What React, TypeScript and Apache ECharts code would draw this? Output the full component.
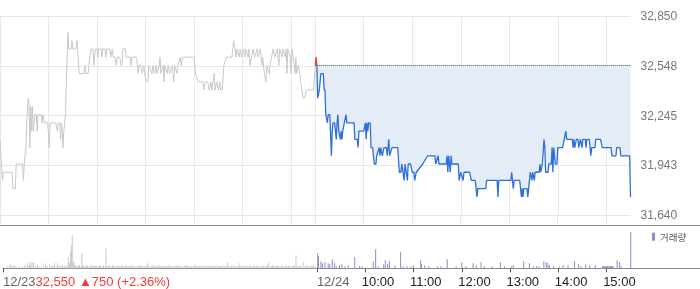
import React, { useEffect, useRef } from 'react';
import * as echarts from 'echarts';

// ---- session / labels ----
const SESSION = 390; // minutes, 09:00 - 15:30
const dates = ['12/23', '12/24'];
const hourTicks = ['10:00', '11:00', '12:00', '13:00', '14:00', '15:00'];
const prevClose = 32550;
const prevChange = 750;
const prevChangePct = 2.36;
const yMin = 31640;
const yMax = 32850;
const yStep = 302.5;

// [minutes after 09:00, price] – 12/23
const prevPrice: [number, number][] = [
  [0, 32100], [3, 31850], [4, 31900], [15, 31900], [16, 31800], [19, 31800], [20, 31950], [28, 31950], [29, 31850],
  [30, 31950], [32, 32050], [33, 32200], [35, 32350], [36, 32300], [37, 32050], [38, 32300], [39, 32150], [40, 32300],
  [41, 32150], [43, 32250], [45, 32250], [46, 32150], [47, 32250], [51, 32250], [52, 32200], [53, 32250], [55, 32200],
  [59, 32200], [61, 32050], [62, 32200], [69, 32200], [71, 32150], [72, 32200], [74, 32200], [75, 32100], [76, 32200],
  [77, 32150], [78, 32050], [79, 32150], [81, 32250], [82, 32450], [84, 32750], [85, 32650], [88, 32650], [89, 32700],
  [90, 32650], [94, 32650], [95, 32700], [96, 32650], [98, 32500], [104, 32500], [105, 32550], [106, 32500], [109, 32500],
  [110, 32550], [111, 32600], [113, 32650], [115, 32650], [116, 32550], [118, 32650], [120, 32650], [121, 32600], [122, 32650],
  [125, 32650], [126, 32600], [127, 32650], [130, 32650], [131, 32600], [132, 32650], [136, 32650], [137, 32600], [139, 32650],
  [140, 32600], [142, 32600], [144, 32550], [145, 32600], [148, 32600], [150, 32550], [151, 32550], [152, 32650], [155, 32650],
  [156, 32600], [161, 32600], [162, 32550], [163, 32600], [169, 32600], [171, 32500], [172, 32550], [174, 32550], [176, 32500],
  [178, 32550], [179, 32500], [181, 32450], [183, 32450], [184, 32550], [188, 32500], [189, 32550], [191, 32500], [193, 32550],
  [194, 32500], [197, 32550], [198, 32600], [199, 32500], [202, 32550], [203, 32450], [204, 32550], [207, 32500], [208, 32550],
  [210, 32500], [213, 32550], [214, 32500], [215, 32450], [216, 32550], [219, 32500], [220, 32550], [223, 32600], [224, 32550],
  [226, 32600], [240, 32600], [241, 32550], [242, 32500], [245, 32450], [251, 32450], [252, 32400], [254, 32450], [257, 32450],
  [259, 32400], [261, 32450], [262, 32400], [265, 32500], [266, 32400], [268, 32450], [270, 32400], [272, 32450], [273, 32400],
  [275, 32400], [277, 32550], [280, 32600], [287, 32600], [288, 32650], [289, 32700], [291, 32650], [292, 32600], [293, 32650],
  [296, 32600], [297, 32650], [299, 32600], [301, 32650], [303, 32600], [304, 32650], [307, 32600], [308, 32650], [309, 32550],
  [311, 32600], [313, 32650], [315, 32600], [318, 32650], [319, 32600], [322, 32650], [324, 32550], [325, 32600], [327, 32500],
  [329, 32450], [330, 32550], [333, 32500], [334, 32550], [336, 32600], [338, 32650], [340, 32600], [343, 32650], [345, 32550],
  [346, 32650], [349, 32600], [350, 32650], [353, 32600], [354, 32650], [355, 32500], [356, 32650], [359, 32600], [360, 32500],
  [361, 32650], [364, 32550], [365, 32500], [366, 32600], [367, 32500], [369, 32550], [371, 32500], [372, 32450], [375, 32350],
  [377, 32350], [379, 32400], [388, 32400], [390, 32550],
];

// [minutes after 09:00, price] – 12/24
const todayPrice: [number, number][] = [
  [0, 32550], [1, 32600], [2, 32550], [3, 32350], [5, 32400], [7, 32500], [10, 32500], [11, 32400], [12, 32400], [13, 32250],
  [15, 32200], [16, 32250], [18, 32250], [20, 32000], [21, 32150], [22, 32200], [24, 32200], [26, 32100], [27, 32200],
  [28, 32250], [29, 32150], [31, 32100], [32, 32150], [33, 32100], [34, 32150], [36, 32200], [38, 32250], [39, 32200],
  [48, 32200], [49, 32100], [52, 32100], [53, 32050], [54, 32150], [60, 32150], [62, 32200], [63, 32100], [64, 32200],
  [65, 32150], [66, 32200], [68, 32200], [69, 32050], [71, 32050], [73, 31950], [75, 31950], [76, 32000], [79, 32050],
  [80, 32000], [81, 32050], [83, 32000], [85, 32050], [88, 32050], [89, 32000], [91, 32100], [92, 32000], [95, 32050],
  [102, 32050], [104, 31900], [106, 31900], [107, 31950], [110, 31850], [111, 31950], [114, 31850], [115, 31950], [118, 31950],
  [120, 31900], [122, 31900], [123, 31850], [125, 31900], [133, 31950], [139, 32000], [148, 32000], [149, 31950], [152, 32000],
  [153, 31950], [162, 31950], [163, 32000], [164, 31900], [165, 32000], [167, 31900], [168, 32000], [169, 31950], [177, 31950],
  [178, 31850], [180, 31900], [183, 31850], [184, 31900], [191, 31900], [193, 31850], [198, 31850], [199, 31800], [200, 31750],
  [201, 31800], [211, 31800], [212, 31850], [225, 31850], [226, 31750], [227, 31850], [242, 31850], [243, 31900], [245, 31800],
  [246, 31850], [253, 31850], [255, 31750], [256, 31800], [257, 31750], [258, 31800], [262, 31800], [263, 31750], [264, 31800],
  [266, 31900], [268, 31850], [269, 31900], [271, 31850], [272, 31900], [277, 31900], [278, 31950], [279, 31900], [281, 31950],
  [283, 32100], [284, 32050], [285, 31900], [288, 31900], [289, 31950], [292, 31950], [293, 32050], [294, 31900], [295, 32050],
  [297, 31950], [299, 31950], [300, 32050], [306, 32050], [308, 32100], [310, 32150], [311, 32100], [318, 32100], [319, 32050],
  [320, 32100], [321, 32050], [323, 32100], [325, 32100], [326, 32050], [328, 32100], [330, 32050], [331, 32100], [334, 32100],
  [335, 32050], [336, 32100], [339, 32100], [340, 32050], [341, 32000], [342, 32050], [346, 32050], [347, 32100], [353, 32100],
  [355, 32050], [366, 32050], [367, 32000], [372, 32000], [373, 32050], [377, 32050], [378, 32000], [389, 32000], [390, 31750],
];

// [minutes after 09:00, volume (천주)] – 12/23
const prevVolume: [number, number][] = [
  [5, 2], [8, 3], [10, 4], [12, 2], [14, 3], [16, 2], [20, 2], [24, 2], [27, 3], [30, 5], [31, 2], [33, 6], [34, 3],
  [36, 6], [38, 6], [40, 2], [43, 3], [46, 2], [50, 3], [53, 5], [55, 2], [58, 4], [60, 2], [62, 3], [64, 5], [66, 2],
  [68, 5], [70, 2], [72, 3], [74, 3], [76, 2], [78, 3], [80, 2], [81, 11], [82, 4], [83, 6], [84, 17], [85, 23], [86, 33],
  [87, 5], [88, 7], [89, 3], [90, 3], [92, 2], [94, 3], [95, 3], [97, 2], [98, 15], [99, 2], [100, 3], [102, 2], [104, 3],
  [105, 2], [107, 2], [109, 2], [110, 3], [112, 2], [113, 3], [115, 2], [116, 2], [118, 2], [120, 3], [121, 2], [123, 2],
  [125, 3], [127, 2], [128, 20], [129, 2], [131, 3], [132, 2], [134, 2], [136, 3], [137, 2], [139, 2], [140, 2], [142, 3],
  [144, 2], [145, 2], [147, 3], [148, 3], [150, 2], [152, 2], [153, 3], [155, 2], [156, 2], [158, 3], [160, 3], [161, 2],
  [163, 2], [165, 2], [167, 2], [168, 3], [170, 2], [171, 3], [173, 2], [174, 2], [176, 2], [178, 3], [180, 5], [181, 2],
  [183, 2], [184, 2], [186, 3], [188, 3], [189, 2], [191, 2], [192, 2], [194, 3], [195, 2], [197, 2], [199, 3], [200, 2],
  [202, 2], [203, 2], [205, 3], [207, 3], [208, 2], [210, 2], [212, 2], [214, 2], [215, 3], [217, 2], [218, 3], [220, 2],
  [221, 2], [223, 2], [225, 2], [226, 3], [228, 2], [229, 3], [231, 2], [233, 2], [234, 2], [236, 2], [238, 3], [240, 3],
  [241, 2], [243, 2], [244, 2], [246, 3], [247, 2], [249, 2], [251, 3], [252, 2], [254, 2], [255, 2], [257, 3], [259, 2],
  [260, 2], [262, 3], [264, 2], [266, 2], [267, 3], [269, 2], [270, 2], [272, 2], [273, 3], [275, 2], [277, 2], [279, 6],
  [280, 2], [282, 2], [284, 3], [286, 3], [287, 2], [289, 2], [291, 2], [293, 5], [294, 2], [296, 3], [297, 2], [299, 2],
  [301, 3], [302, 2], [304, 2], [306, 3], [308, 2], [309, 2], [311, 2], [312, 3], [314, 2], [315, 2], [317, 3], [319, 2],
  [321, 2], [323, 3], [324, 2], [326, 2], [327, 2], [329, 3], [330, 6], [332, 2], [333, 2], [335, 3], [336, 2], [338, 2],
  [340, 3], [341, 2], [343, 2], [344, 2], [346, 3], [348, 2], [349, 2], [351, 3], [353, 2], [355, 3], [356, 2], [358, 2],
  [359, 2], [361, 3], [362, 2], [364, 13], [365, 2], [367, 2], [369, 3], [370, 2], [373, 6], [375, 2], [377, 3], [379, 2],
  [381, 2], [383, 3], [385, 2], [386, 3], [388, 2],
];

// [minutes after 09:00, volume (천주)] – 12/24
const todayVolume: [number, number][] = [
  [1, 15], [2, 12], [5, 7], [7, 5], [10, 6], [14, 5], [16, 4], [19, 9], [22, 5], [24, 2], [28, 3], [31, 4], [35, 2],
  [39, 3], [47, 11], [53, 2], [56, 2], [70, 7], [73, 19], [76, 2], [83, 4], [85, 8], [88, 4], [90, 7], [97, 3], [104, 16],
  [107, 2], [112, 2], [117, 2], [120, 3], [129, 8], [130, 4], [134, 3], [139, 2], [150, 2], [154, 2], [162, 9], [173, 2],
  [180, 6], [185, 2], [194, 5], [198, 3], [204, 6], [208, 2], [218, 2], [228, 6], [233, 2], [242, 2], [244, 3], [257, 7],
  [264, 5], [269, 2], [273, 2], [276, 2], [282, 7], [285, 6], [287, 5], [289, 3], [294, 2], [301, 2], [306, 3], [312, 3],
  [320, 7], [325, 4], [328, 2], [334, 4], [339, 3], [346, 3], [355, 2], [356, 2], [357, 2], [358, 2], [359, 2], [360, 2],
  [361, 2], [362, 2], [363, 2], [364, 2], [365, 2], [366, 2], [367, 2], [368, 2], [373, 8], [376, 6], [378, 2], [390, 36],
];

// ---- derived axis helpers ----
const pad = (n: number) => (n < 10 ? '0' + n : '' + n);
const hhmm = (m: number) => pad(Math.floor((540 + m) / 60)) + ':' + pad((540 + m) % 60);
const catName = (i: number) => (i < SESSION ? dates[0] + ' ' + hhmm(i) : dates[1] + ' ' + hhmm(i - SESSION));
const MAIN_N = SESSION * 2 + 1; // 781 slots
const FULL_N = 867; // slots spanning the full 700px width
const mainCats = Array.from({ length: MAIN_N }, (_, i) => catName(i));
const fullCats = Array.from({ length: FULL_N }, (_, i) => catName(i));

const gridLineIdx = new Set<number>();
[0, SESSION].forEach((base) => {
  gridLineIdx.add(base);
  hourTicks.forEach((_, k) => gridLineIdx.add(base + 60 * (k + 1)));
});
const dateIdx = new Map<number, string>([[0, dates[0]], [SESSION, dates[1]]]);
const timeIdx = new Map<number, string>(hourTicks.map((t, k) => [SESSION + 60 * (k + 1), t]));
const volTickIdx = new Set<number>([...dateIdx.keys(), ...timeIdx.keys()]);

const FONT = '"Liberation Sans", Arial, "Noto Sans CJK KR", sans-serif';

export default function App() {
  const ref = useRef<HTMLDivElement>(null);
  useEffect(() => {
    const chart = echarts.init(ref.current!, undefined, { renderer: 'svg' });
    const option: any = {
      animation: false,
      textStyle: { fontFamily: FONT },
      grid: [
        { left: 0, right: 69.5, top: 16, height: 199 },
        { left: 0, right: 0, top: 226, height: 42.3 },
        { left: 0, right: 0, top: 215, height: 10 },
      ],
      legend: {
        data: ['거래량'],
        left: 652,
        top: 232,
        padding: 0,
        icon: 'rect',
        itemWidth: 3,
        itemHeight: 8,
        selectedMode: false,
        textStyle: { fontSize: 9.5, color: '#555', fontFamily: '"Noto Sans CJK KR", sans-serif' },
      },
      visualMap: {
        show: false,
        type: 'piecewise',
        seriesIndex: 1,
        dimension: 1,
        pieces: [
          { gte: 20000, lte: prevClose, color: '#2e6fdb' },
          { gt: prevClose, lte: 50000, color: '#f03c3c' },
        ],
      },
      xAxis: [
        {
          gridIndex: 0,
          type: 'category',
          data: mainCats,
          boundaryGap: false,
          axisLine: { show: false },
          axisTick: { show: false },
          axisLabel: { show: false },
          splitLine: { show: true, interval: (i: number) => gridLineIdx.has(i), lineStyle: { color: '#e7e7e7', width: 1 } },
        },
        {
          gridIndex: 1,
          type: 'category',
          data: fullCats,
          boundaryGap: false,
          position: 'bottom',
          axisLine: { show: true, onZero: false, lineStyle: { color: '#8a8a8a', width: 1 } },
          axisTick: { show: true, interval: (i: number) => volTickIdx.has(i), length: 4, lineStyle: { color: '#555' } },
          axisLabel: {
            show: true,
            interval: (i: number) => timeIdx.has(i),
            formatter: (_v: string, i: number) => timeIdx.get(i) || '',
            align: 'left',
            padding: [0, 0, 0, -3.5],
            margin: 7,
            fontSize: 13,
            color: '#222',
            fontFamily: FONT,
          },
          splitLine: { show: false },
        },
        {
          gridIndex: 1,
          type: 'category',
          data: fullCats,
          boundaryGap: false,
          position: 'bottom',
          axisLine: { show: false, onZero: false },
          axisTick: { show: false },
          axisLabel: {
            show: true,
            interval: (i: number) => dateIdx.has(i),
            formatter: (_v: string, i: number) =>
              i === 0
                ? `{d|${dates[0]}}{r|${prevClose.toLocaleString('en-US')} ▲${prevChange} (+${prevChangePct.toFixed(2)}%)}`
                : `{d|${dateIdx.get(i) || ''}}`,
            align: 'left',
            margin: 7,
            rich: {
              d: { fontSize: 13, color: '#666', fontFamily: FONT },
              r: { fontSize: 13, color: '#f03c3c', fontFamily: FONT },
            },
          },
          splitLine: { show: false },
        },
        {
          gridIndex: 2,
          type: 'category',
          data: fullCats,
          boundaryGap: false,
          axisLine: { show: true, onZero: false, lineStyle: { color: '#8a8a8a', width: 1 } },
          axisTick: { show: false },
          axisLabel: { show: false },
          splitLine: { show: true, interval: (i: number) => gridLineIdx.has(i), lineStyle: { color: '#e7e7e7', width: 1 } },
        },
      ],
      yAxis: [
        {
          gridIndex: 0,
          type: 'value',
          position: 'right',
          min: yMin,
          max: yMax,
          interval: yStep,
          axisLine: { show: false },
          axisTick: { show: false },
          axisLabel: {
            margin: 10,
            fontSize: 12,
            color: '#777',
            fontFamily: FONT,
            formatter: (v: number) => Math.round(v).toLocaleString('en-US'),
          },
          splitLine: { show: true, lineStyle: { color: '#e7e7e7', width: 1 } },
        },
        { gridIndex: 1, type: 'value', min: 0, max: 42, show: false, splitLine: { show: false } },
        { gridIndex: 2, type: 'value', min: 0, max: 1, show: false, splitLine: { show: false } },
      ],
      series: [
        {
          name: '12/23',
          type: 'line',
          xAxisIndex: 0,
          yAxisIndex: 0,
          data: prevPrice.map(([m, p]) => [m, p]),
          showSymbol: false,
          symbol: 'none',
          lineStyle: { color: '#c6c8cd', width: 1 },
          itemStyle: { color: '#c6c8cd' },
          silent: true,
          z: 2,
        },
        {
          name: '12/24',
          type: 'line',
          xAxisIndex: 0,
          yAxisIndex: 0,
          data: todayPrice.map(([m, p]) => [SESSION + m, p]),
          showSymbol: false,
          symbol: 'none',
          lineStyle: { width: 1.3 },
          areaStyle: { color: '#e4ecf8', opacity: 1, origin: prevClose },
          silent: true,
          z: 3,
          markLine: {
            silent: true,
            symbol: ['none', 'none'],
            label: { show: false },
            lineStyle: { color: '#555', type: 'dotted', width: 1 },
            data: [[{ coord: [SESSION, prevClose] }, { coord: [SESSION * 2, prevClose] }]],
          },
        },
        {
          name: '12/23 거래량',
          type: 'bar',
          xAxisIndex: 1,
          yAxisIndex: 1,
          barWidth: 1,
          barGap: '-100%',
          data: prevVolume.map(([m, v]) => [m, v]),
          itemStyle: { color: '#c6c8cc' },
          silent: true,
        },
        {
          name: '거래량',
          type: 'bar',
          xAxisIndex: 1,
          yAxisIndex: 1,
          barWidth: 1,
          barGap: '-100%',
          data: todayVolume.map(([m, v]) => [SESSION + m, v]),
          itemStyle: { color: '#9a86c6' },
          silent: true,
        },
      ],
    };
    chart.setOption(option);
    return () => chart.dispose();
  }, []);
  return <div ref={ref} style={{ position: 'fixed', left: 0, top: 0, width: 700, height: 289 }} />;
}
